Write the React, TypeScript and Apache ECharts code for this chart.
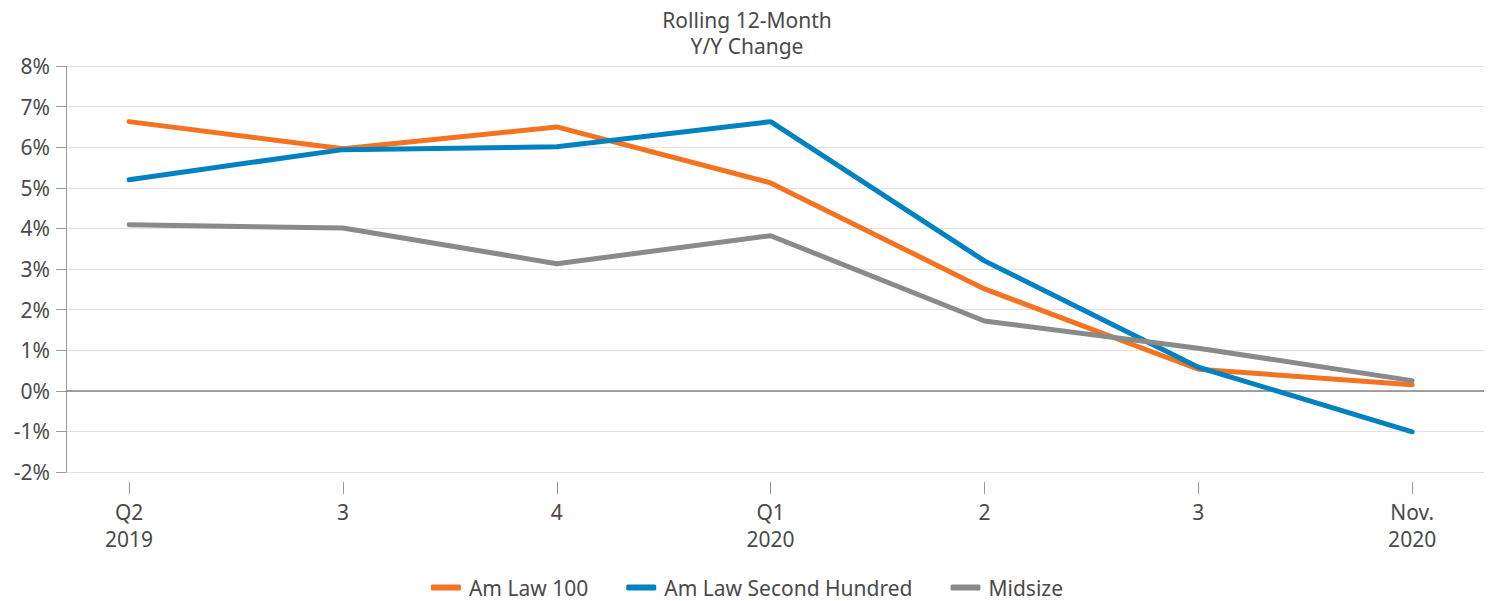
import React, { useEffect, useRef } from "react";
import * as echarts from "echarts";

const categories = ["Q2\n2019", "3", "4", "Q1\n2020", "2", "3", "Nov.\n2020"];
const amLaw100 = [6.63, 5.96, 6.5, 5.12, 2.51, 0.53, 0.15];
const amLawSecond = [5.2, 5.94, 6.01, 6.63, 3.2, 0.58, -1.01];
const midsize = [4.09, 4.01, 3.13, 3.82, 1.72, 1.05, 0.25];
const seriesNames = ["Am Law 100", "Am Law Second Hundred", "Midsize"];
const colors = ["#F47321", "#0082C1", "#898A8C"];

const FONT = "'Noto Sans', 'Open Sans', sans-serif";
const TEXT = "#4a4a4a";

export default function App() {
  const ref = useRef<HTMLDivElement>(null);
  useEffect(() => {
    if (!ref.current) return;
    const chart = echarts.init(ref.current, undefined, { renderer: "svg" });
    const toPairs = (arr: number[]) => arr.map((v, i) => [i, v]);
    const datasets = [amLaw100, amLawSecond, midsize];
    chart.setOption({
      animation: false,
      backgroundColor: "#ffffff",
      textStyle: { fontFamily: FONT },
      title: {
        text: "Rolling 12-Month\nY/Y Change",
        left: "center",
        top: 2,
        textStyle: { fontSize: 21, lineHeight: 26, fontWeight: "normal", color: TEXT, fontFamily: FONT },
      },
      legend: {
        bottom: -2,
        left: "center",
        data: seriesNames,
        icon: "roundRect",
        itemWidth: 30,
        itemHeight: 6,
        itemGap: 38,
        textStyle: { fontSize: 21, color: TEXT, fontFamily: FONT, padding: [0, 0, 0, 3] },
      },
      grid: { left: 66, right: 10, top: 66, bottom: 129 },
      xAxis: {
        type: "value",
        min: -0.295,
        max: 6.336,
        offset: 10,
        axisLine: { show: false, onZero: false },
        splitLine: { show: false },
        axisTick: {
          show: true,
          length: 12,
          lineStyle: { color: "#9a9a9a", width: 1 },
          customValues: [0, 1, 2, 3, 4, 5, 6],
        },
        axisLabel: {
          customValues: [0, 1, 2, 3, 4, 5, 6],
          formatter: (v: number) => categories[Math.round(v)] ?? "",
          fontSize: 21,
          lineHeight: 27,
          color: TEXT,
          margin: 16,
          fontFamily: FONT,
        },
      },
      yAxis: {
        type: "value",
        min: -2,
        max: 8,
        interval: 1,
        axisLine: { show: true, onZero: false, lineStyle: { color: "#9a9a9a", width: 1 } },
        axisTick: { show: true, length: 10, lineStyle: { color: "#9a9a9a" } },
        splitLine: { show: true, lineStyle: { color: "#e2e2e2", width: 1 } },
        axisLabel: {
          formatter: "{value}%",
          fontSize: 21,
          color: TEXT,
          margin: 16,
          fontFamily: FONT,
        },
      },
      series: datasets.map((d, i) => ({
        name: seriesNames[i],
        type: "line",
        data: toPairs(d),
        symbol: "none",
        lineStyle: { color: colors[i], width: 5, cap: "round" },
        itemStyle: { color: colors[i] },
        z: 3 + i,
        markLine:
          i === 0
            ? {
                silent: true,
                symbol: "none",
                label: { show: false },
                lineStyle: { color: "#858585", width: 1.5, type: "solid" },
                data: [{ yAxis: 0 }],
                z: 1,
              }
            : undefined,
      })),
    });
    return () => chart.dispose();
  }, []);
  return (
    <div
      ref={ref}
      style={{ position: "fixed", left: 0, top: 0, width: 1494, height: 601 }}
    />
  );
}
